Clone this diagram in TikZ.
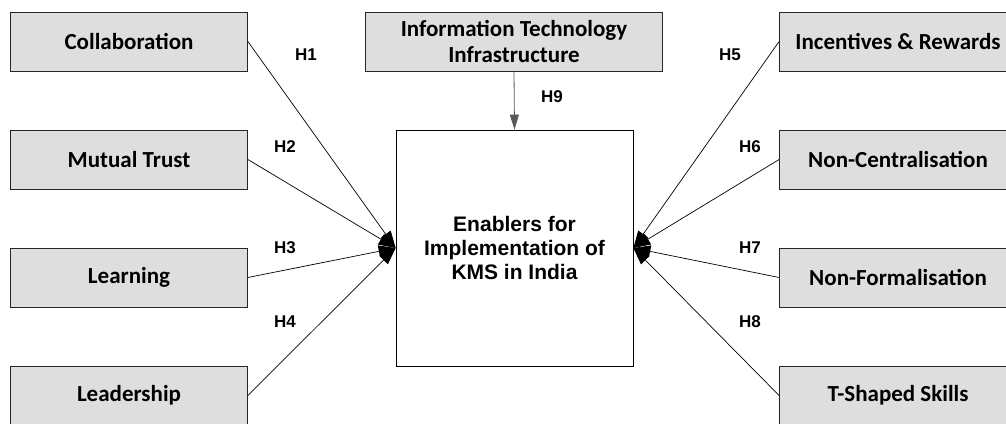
\documentclass[tikz,border=0pt]{standalone}
\usepackage{fontspec}
\setmainfont{Carlito}
\newfontfamily\arialfont{Liberation Sans}
\usetikzlibrary{arrows.meta}

\definecolor{boxgray}{RGB}{222,222,222}

\tikzset{
  factor/.style={draw=black!85, fill=boxgray, line width=0.8pt,
    minimum width=237pt, minimum height=59pt, inner sep=0pt,
    font=\fontsize{23}{26}\selectfont\bfseries, align=center},
  hlabel/.style={font=\arialfont\fontsize{17}{19}\selectfont\bfseries},
  link/.style={line width=0.7pt, -{Triangle[length=17pt, width=12pt]}}
}

\begin{document}
\begin{tikzpicture}[x=1pt, y=-1pt]

\clip (0,0) rectangle (1006,423);

\def\XL{129}
\def\XR{898}
\def\YA{41.5}
\def\YB{159.5}
\def\YC{277.5}
\def\YD{395.5}

% centre
\node[draw=black, fill=white, line width=0.8pt, minimum width=237pt, minimum height=236pt,
      font=\arialfont\fontsize{21}{24}\selectfont\bfseries, align=center]
      (kms) at (514.5,248) {Enablers for\\Implementation of\\KMS in India};

% top
\node[factor, minimum width=297pt] (it) at (514,41.5) {Information Technology\\Infrastructure};

% left
\node[factor] (collab) at (\XL,\YA) {Collaboration};
\node[factor] (trust)  at (\XL,\YB) {Mutual Trust};
\node[factor] (learn)  at (\XL,\YC) {Learning};
\node[factor] (lead)   at (\XL,\YD) {Leadership};

% right
\node[factor] (reward) at (\XR,\YA) {Incentives \& Rewards};
\node[factor] (central) at (\XR,\YB) {Non-Centralisation};
\node[factor] (formal) at (\XR,\YC) {Non-Formalisation};
\node[factor] (skills) at (\XR,\YD) {T-Shaped Skills};

\draw[link] (collab.east) -- (kms.west);
\draw[link] (trust.east) -- (kms.west);
\draw[link] (learn.east) -- (kms.west);
\draw[link] (lead.east) -- (kms.west);

\draw[link] (reward.west) -- (kms.east);
\draw[link] (central.west) -- (kms.east);
\draw[link] (formal.west) -- (kms.east);
\draw[link] (skills.west) -- (kms.east);

\draw[line width=0.8pt, black!65, -{Triangle[length=15pt, width=9pt]}] (it.south) -- (kms.north);

\node[hlabel] (h1) at (306,55) {H1};
\node[hlabel] (h2) at (285,147) {H2};
\node[hlabel] (h3) at (285,248) {H3};
\node[hlabel] (h4) at (285,322) {H4};
\node[hlabel] (h5) at (730,55) {H5};
\node[hlabel] (h6) at (750,147) {H6};
\node[hlabel] (h7) at (750,248) {H7};
\node[hlabel] (h8) at (750,322) {H8};
\node[hlabel] (h9) at (552,97) {H9};

\end{tikzpicture}
\end{document}
